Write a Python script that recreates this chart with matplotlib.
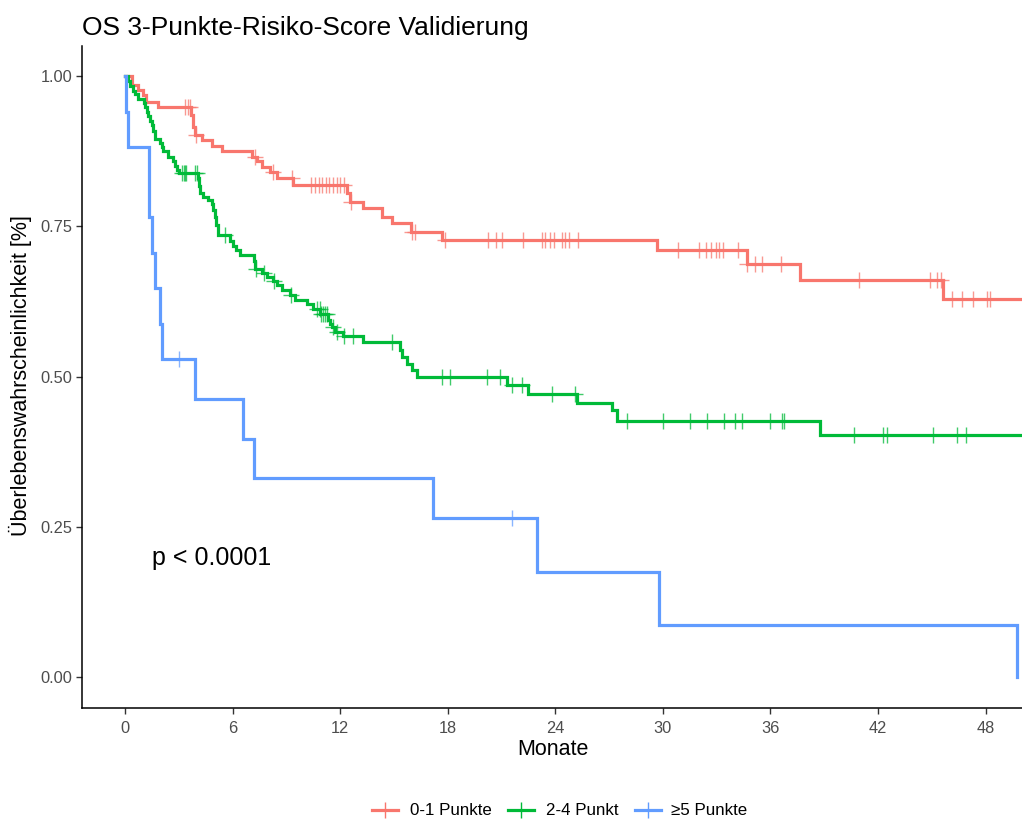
import numpy as np
import matplotlib
matplotlib.use("Agg")
import matplotlib.pyplot as plt
from matplotlib.lines import Line2D

plt.rcParams['font.family'] = ['Liberation Sans', 'DejaVu Sans']

# Kaplan-Meier step estimates: time of each drop (months) and survival afterwards
groups = ["0-1 Punkte", "2-4 Punkt", "\u22655 Punkte"]
colors = ["#F8766D", "#00BA38", "#619CFF"]

red_t = [0, 0.4, 0.7, 1.0, 1.15, 1.86, 3.7, 3.8, 3.9, 4.3, 4.85, 5.4, 7.07, 7.34,
         7.62, 8.09, 8.46, 9.39, 12.36, 12.55, 13.29, 14.32, 14.87, 15.93, 17.66,
         29.65, 34.67, 37.65, 45.64]
red_s = [1.0, 0.985, 0.977, 0.968, 0.957, 0.948, 0.935, 0.915, 0.902, 0.893, 0.884,
         0.876, 0.866, 0.858, 0.849, 0.841, 0.830, 0.819, 0.805, 0.791, 0.780, 0.766,
         0.755, 0.741, 0.727, 0.710, 0.688, 0.661, 0.629]
red_cens = [3.35, 3.5, 3.6, 3.95, 7.25, 8.24, 9.3, 10.4, 10.6, 10.8, 11.0, 11.2, 11.4,
            11.6, 11.8, 12.0, 12.2, 12.6, 16.03, 16.2, 17.86, 20.26, 20.67, 21.0, 22.2,
            23.27, 23.42, 23.70, 23.94, 24.39, 24.54, 24.76, 25.28, 30.86, 32.03, 32.41,
            32.67, 32.95, 33.13, 33.34, 34.21, 34.7, 35.14, 35.54, 36.57, 40.94, 44.90,
            45.30, 45.49, 46.1, 46.66, 47.31, 48.06, 48.24]
red_end = 50.0

green_t = [0, 0.15, 0.28, 0.45, 0.56, 0.7, 1.05, 1.12, 1.2, 1.3, 1.4, 1.49, 1.58, 1.67,
           1.95, 2.05, 2.14, 2.42, 2.69, 2.80, 2.88, 3.0, 4.09, 4.14, 4.18, 4.37, 4.65,
           4.83, 4.92, 5.02, 5.1, 5.21, 5.86, 6.04, 6.2, 6.41, 7.20, 7.25, 7.62, 7.90,
           8.27, 8.50, 8.74, 9.20, 9.48, 10.13, 10.50, 10.88, 11.34, 11.45, 11.53,
           11.71, 12.18, 13.29, 15.34, 15.43, 15.71, 15.99, 16.27, 21.29, 22.49,
           25.19, 27.14, 27.46, 38.76]
green_s = [1.0, 0.992, 0.984, 0.976, 0.97, 0.962, 0.955, 0.948, 0.94, 0.933, 0.925,
           0.918, 0.908, 0.896, 0.889, 0.882, 0.875, 0.866, 0.858, 0.851, 0.844, 0.838,
           0.831, 0.818, 0.805, 0.799, 0.794, 0.787, 0.777, 0.766, 0.752, 0.736, 0.725,
           0.718, 0.711, 0.703, 0.692, 0.680, 0.673, 0.666, 0.660, 0.652, 0.644, 0.636,
           0.627, 0.621, 0.613, 0.605, 0.594, 0.588, 0.582, 0.575, 0.568, 0.557, 0.545,
           0.533, 0.522, 0.511, 0.499, 0.486, 0.472, 0.457, 0.444, 0.427, 0.403]
green_cens = [3.2, 3.27, 3.33, 3.4, 3.9, 4.0, 5.6, 7.3, 7.75, 8.3, 9.25, 10.7, 10.85,
              10.95, 11.05, 11.15, 11.25, 11.6, 11.8, 12.2, 12.74, 14.87, 17.66, 18.13,
              20.21, 20.91, 21.57, 22.12, 23.80, 25.1, 27.98, 30.02, 31.51, 32.44, 33.41,
              34.02, 34.43, 35.97, 36.62, 36.75, 40.66, 42.26, 42.52, 45.08, 46.38, 46.89]
green_end = 50.0

blue_t = [0, 0.06, 0.19, 1.36, 1.49, 1.67, 1.95, 2.08, 3.90, 6.58, 7.19, 17.15, 23.0,
          29.8, 49.77]
blue_s = [1.0, 0.941, 0.882, 0.765, 0.706, 0.647, 0.588, 0.529, 0.463, 0.397, 0.331,
          0.265, 0.176, 0.088, 0.0]
blue_cens = [3.01, 21.6]
blue_end = 49.77

x_ticks = [0, 6, 12, 18, 24, 30, 36, 42, 48]
y_ticks = [0.0, 0.25, 0.5, 0.75, 1.0]
y_ticklabels = ["0.00", "0.25", "0.50", "0.75", "1.00"]

series = [
    (red_t, red_s, red_cens, red_end),
    (green_t, green_s, green_cens, green_end),
    (blue_t, blue_s, blue_cens, blue_end),
]

W, H = 1022, 821
fig = plt.figure(figsize=(W / 100, H / 100), dpi=100)
ax = fig.add_axes([82 / W, 1 - 707.5 / H, 1 - 82 / W, (707.5 - 46) / H])

for (t, s, cens, end), col in zip(series, colors):
    t = np.asarray(t, float)
    s = np.asarray(s, float)
    xs = np.append(t, end)
    ys = np.append(s, s[-1])
    ax.step(xs, ys, where="post", color=col, lw=2.3, solid_joinstyle="miter", zorder=3)
    c = np.asarray(cens, float)
    cy = s[np.searchsorted(t, c, side="right") - 1]
    ax.plot(c, cy, linestyle="none", marker="+", markersize=11, mew=1.0,
            color=col, alpha=0.75, zorder=4)

ax.set_xlim(-2.4, 50.03)
ax.set_ylim(-0.05, 1.05)
ax.set_xticks(x_ticks)
ax.set_yticks(y_ticks)
ax.set_yticklabels(y_ticklabels)
for side in ("top", "right"):
    ax.spines[side].set_visible(False)
for side in ("left", "bottom"):
    ax.spines[side].set_linewidth(1.1)
    ax.spines[side].set_color("black")
ax.tick_params(axis="both", length=4, width=1.0, color="#333333",
               labelsize=11.8, labelcolor="#4D4D4D")
ax.tick_params(axis="x", pad=6)
ax.tick_params(axis="y", pad=3)

ax.text(1.5, 0.198, "p < 0.0001", fontsize=18, ha="left", va="center", color="black")

fig.text(82 / W, 1 - 35 / H, "OS 3-Punkte-Risiko-Score Validierung",
         fontsize=19, ha="left", va="baseline")
fig.text(553 / W, 1 - 749 / H, "Monate", fontsize=15.5, ha="center", va="center")
fig.text(20 / W, 1 - 376 / H, "\u00dcberlebenswahrscheinlichkeit [%]",
         fontsize=15.5, ha="center", va="center", rotation=90)

# Bottom legend: key line with censor mark, followed by the group label
key_x = [(372, 398), (508, 534), (635, 661)]
label_x = [410, 546, 671]
ly = 1 - 810 / H
for (x0, x1), lx, col, name in zip(key_x, label_x, colors, groups):
    fig.add_artist(Line2D([x0 / W, x1 / W], [ly, ly], color=col, lw=2.3,
                          transform=fig.transFigure))
    fig.add_artist(Line2D([(x0 + x1) / 2 / W], [ly], color=col, marker="+",
                          markersize=11, mew=1.0, linestyle="none",
                          transform=fig.transFigure))
    fig.text(lx / W, ly, name, fontsize=12.2, ha="left", va="center")

fig.savefig("out.png", dpi=100)
